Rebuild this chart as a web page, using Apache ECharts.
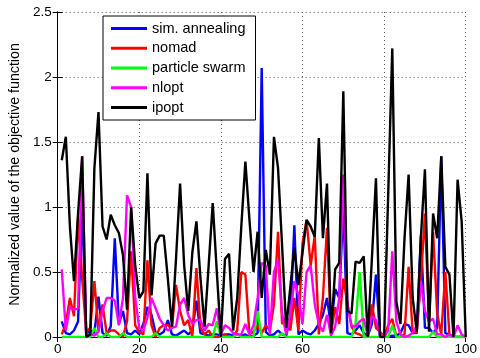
<!DOCTYPE html>
<html>
<head>
<meta charset="utf-8">
<script src="https://cdn.jsdelivr.net/npm/echarts@6/dist/echarts.min.js"></script>
<style>html,body{margin:0;padding:0;background:#fff;}#c{width:480px;height:358px;}</style>
</head>
<body>
<div id="c"></div>
<script>
var seriesNames = ['sim. annealing', 'nomad', 'particle swarm', 'nlopt', 'ipopt'];
var seriesColors = ['#0000ff', '#ff0000', '#00ff00', '#ff00ff', '#000000'];
var xTicks = [0, 20, 40, 60, 80, 100];
var yTicks = [0, 0.5, 1, 1.5, 2, 2.5];

var simAnnealing = [0.12,0.03,0.02,0.05,0.12,1.0,0.02,0.05,0.03,0.31,
0.03,0.01,0.08,0.76,0.1,0.2,0.03,0.02,0.05,0.02,
0.1,0.23,0.17,0.03,0.02,0.04,0.13,0.02,0.01,0.03,
0.05,0.02,0.05,0.28,0.03,0.02,0.01,0.02,0.02,0.01,
0.02,0.02,0.01,0.02,0.01,0.02,0.0,0.01,0.03,2.07,
0.04,0.01,0.02,0.05,0.02,0.01,0.15,0.86,0.02,0.05,
0.03,0.02,0.05,0.1,0.17,0.3,0.08,0.37,0.3,1.0,
0.03,0.02,0.05,0.09,0.03,0.01,0.1,0.48,0.0,0.0,
0.0,0.01,0.01,0.03,0.1,0.09,0.03,0.03,0.78,0.07,
0.07,0.03,0.07,1.39,0.03,0.02,0.0,0.0,0.0,0.0];

var nomad = [0.02,0.1,0.3,0.16,0.92,0.45,0.04,0.07,0.43,0.05,
0.25,0.03,0.05,0.05,0.02,0.0,0.12,0.66,0.09,0.04,
0.02,0.59,0.09,0.0,0.07,0.09,0.09,0.07,0.4,0.2,
0.09,0.13,0.0,0.53,0.07,0.02,0.05,0.0,0.0,0.0,
0.02,0.0,0.0,0.05,0.5,0.48,0.02,0.04,0.09,0.03,
0.09,0.05,0.25,0.81,0.1,0.15,0.05,0.3,0.05,0.72,
0.9,0.55,0.78,0.02,0.3,0.84,0.03,0.23,0.1,0.45,
0.26,0.08,0.03,0.02,0.0,0.0,0.25,0.07,0.04,0.0,
0.09,0.14,0.0,0.0,0.02,0.54,0.03,0.04,0.43,0.95,
0.12,0.81,0.18,0.02,0.5,0.02,0.0,0.0,0.0,0.0];

var particleSwarm = [0,0,0,0,0,0,0,0,0.07,0,
0,0.03,0,0,0,0.03,0,0,0,0,
0,0,0,0.03,0,0,0,0,0,0,
0,0,0,0,0,0,0,0,0.12,0,
0,0,0,0.02,0,0,0,0,0.2,0,
0,0,0,0,0.03,0,0,0,0,0,
0,0,0,0,0,0,0,0,0,0,
0,0,0.1,0.5,0,0,0,0,0,0,
0,0.09,0,0,0,0,0,0,0,0,
0,0.04,0,0,0,0,0,0,0,0];

var nlopt = [0.52,0.05,0.23,0.21,0.22,1.39,0.02,0.02,0.01,0.04,
0.2,0.3,0.3,0.28,0.09,0.3,1.09,1.0,0.3,0.07,
0.05,0.15,0.3,0.22,0.14,0.09,0.05,0.07,0.08,0.25,
0.3,0.17,0.1,0.13,0.13,0.05,0.1,0.09,0.22,0.02,
0.09,0.07,0.03,0.02,0.02,0.1,0.02,0.09,0.3,0.57,
0.55,0.02,0.5,0.59,0.18,0.02,0.17,0.43,0.32,0.1,
0.5,0.55,0.25,0.1,0.04,0.17,0.01,0.08,0.3,1.25,
0.25,0.09,0.08,0.12,0.14,0.01,0.16,0.13,0.02,0.0,
0.05,0.66,0.12,0.02,0.0,0.01,0.03,0.09,0.43,0.2,
0.12,0.14,0.02,0.02,0.0,0.02,0.0,0.09,0.02,0.0];

var ipopt = [1.36,1.54,0.85,0.43,0.95,1.39,0.0,0.02,1.3,1.73,
0.85,0.75,0.94,0.86,0.8,0.63,0.21,1.0,0.55,0.3,
0.35,1.26,0.32,0.72,0.78,0.78,0.45,0.08,0.6,1.18,
0.55,0.2,0.65,0.89,0.45,0.08,0.55,1.03,0.5,0.0,
0.6,0.64,0.05,0.3,0.85,1.35,0.9,0.5,0.81,0.3,
0.67,0.48,1.54,1.3,0.7,0.07,0.38,0.69,0.4,0.65,
0.9,0.85,0.77,1.53,0.76,1.18,0.03,0.52,0.57,1.89,
0.2,0.18,0.58,0.57,0.62,0.0,0.6,1.22,0.0,0.0,
1.1,2.22,0.27,0.1,0.76,1.25,0.3,0.04,0.76,1.29,
0.04,0.95,0.76,1.39,0.54,0.48,0.0,1.21,0.89,0.0];

var allValues = [simAnnealing, nomad, particleSwarm, nlopt, ipopt];

function pairs(vals) {
  return vals.map(function (v, i) { return [i + 1, v]; });
}

var FONT = 'Liberation Sans, Arial, sans-serif';
var chart = echarts.init(document.getElementById('c'), null, {renderer: 'canvas'});

var series = seriesNames.map(function (name, k) {
  return {
    name: name,
    type: 'line',
    data: pairs(allValues[k]),
    symbol: 'none',
    showSymbol: false,
    lineStyle: {width: 2.4, color: seriesColors[k]},
    itemStyle: {color: seriesColors[k]},
    animation: false,
    z: 2 + k
  };
});

var tickStyle = {inside: true, length: 5, lineStyle: {color: '#000', width: 1}};
var gridLine = {show: true, lineStyle: {color: '#555', width: 1, type: [1, 3]}};

chart.setOption({
  animation: false,
  backgroundColor: '#fff',
  grid: {left: 57, right: 13, top: 12, bottom: 21, containLabel: false},
  legend: {
    data: seriesNames,
    orient: 'vertical',
    left: 103,
    top: 16,
    icon: 'rect',
    itemWidth: 36,
    itemHeight: 3,
    itemGap: 4.75,
    padding: [5, 10, 5, 8],
    backgroundColor: '#fff',
    borderColor: '#000',
    borderWidth: 1,
    textStyle: {fontFamily: FONT, fontSize: 14.5, color: '#000', lineHeight: 15},
    z: 20
  },
  xAxis: [{
    type: 'value', min: xTicks[0], max: xTicks[xTicks.length - 1], interval: 20,
    position: 'bottom',
    axisLine: {show: true, lineStyle: {color: '#000', width: 1}},
    axisTick: tickStyle,
    axisLabel: {fontFamily: FONT, fontSize: 13.5, color: '#000', margin: 5},
    splitLine: gridLine
  }, {
    type: 'value', min: xTicks[0], max: xTicks[xTicks.length - 1], interval: 20,
    position: 'top',
    axisLine: {show: true, lineStyle: {color: '#000', width: 1}},
    axisTick: tickStyle,
    axisLabel: {show: false},
    splitLine: {show: false}
  }],
  yAxis: [{
    type: 'value', min: yTicks[0], max: yTicks[yTicks.length - 1], interval: 0.5,
    position: 'left',
    name: 'Normalized value of the objective function',
    nameLocation: 'middle',
    nameGap: 30,
    nameTextStyle: {fontFamily: FONT, fontSize: 14.2, color: '#000'},
    axisLine: {show: true, lineStyle: {color: '#000', width: 1}},
    axisTick: tickStyle,
    axisLabel: {fontFamily: FONT, fontSize: 13.5, color: '#000', margin: 6},
    splitLine: gridLine
  }, {
    type: 'value', min: yTicks[0], max: yTicks[yTicks.length - 1], interval: 0.5,
    position: 'right',
    axisLine: {show: true, lineStyle: {color: '#000', width: 1}},
    axisTick: tickStyle,
    axisLabel: {show: false},
    splitLine: {show: false}
  }],
  series: series
});
</script>
</body>
</html>
